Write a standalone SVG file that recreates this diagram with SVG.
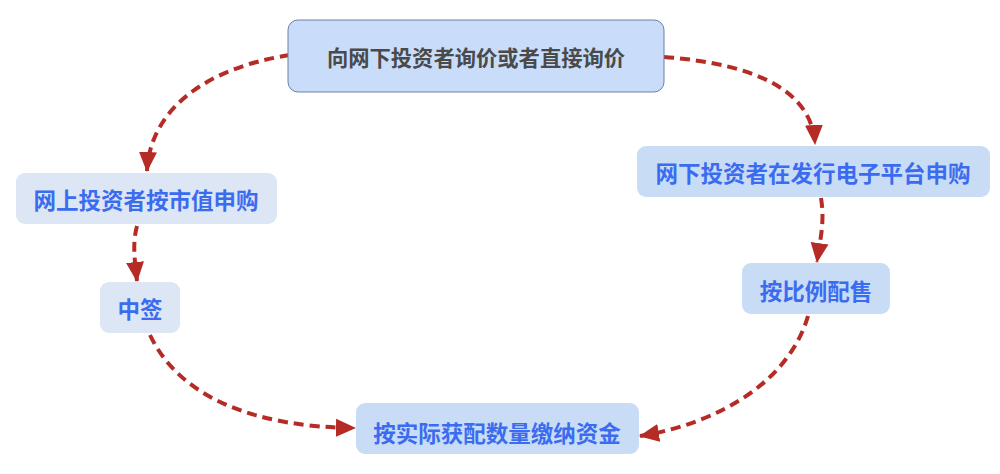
<svg xmlns="http://www.w3.org/2000/svg" width="1000" height="474" viewBox="0 0 1000 474">
<defs>
<style>
.box{fill:#c9dcf6;}
.box2{fill:#dce6f4;}
.t{font-family:"Noto Sans CJK SC","Noto Sans",sans-serif;font-weight:bold;font-size:22.5px;fill:#3b6cf0;text-anchor:middle;dominant-baseline:central;}
.tt{fill:#4a4a4a;font-size:21.3px;}
.c{fill:none;stroke:#b52b26;stroke-width:4;stroke-dasharray:10 6;}
</style>
<marker id="ah" markerUnits="userSpaceOnUse" markerWidth="20" markerHeight="20" viewBox="0 0 20 20" refX="19" refY="10" orient="auto">
<path d="M0,1 L20,10 L0,19 Z" fill="#b52b26"/>
</marker>
</defs>
<rect width="1000" height="474" fill="#ffffff"/>
<g id="connectors">
<path class="c" d="M290,55 C205,68 150,110 147,171" marker-end="url(#ah)"/>
<path class="c" d="M664,57 C758,64 812,92 815,144" marker-end="url(#ah)"/>
<path class="c" d="M137,226 C132,244 135,262 137,281" marker-end="url(#ah)"/>
<path class="c" d="M150,335 C180,398 255,427 355,428" marker-end="url(#ah)"/>
<path class="c" d="M821,198 C825,222 820,240 817,262" marker-end="url(#ah)"/>
<path class="c" d="M808,316 C790,378 725,422 640,436" marker-end="url(#ah)"/>
</g>
<g id="n1">
<rect x="288" y="20" width="376" height="72" rx="10" fill="#c9ddfa" stroke="#6c7fa8" stroke-width="1"/>
<text class="t tt" x="476" y="56">向网下投资者询价或者直接询价</text>
</g>
<g id="n2">
<rect class="box2" x="16" y="173" width="261" height="51" rx="9"/>
<text class="t" x="146" y="199">网上投资者按市值申购</text>
</g>
<g id="n3">
<rect class="box2" x="100" y="282" width="80" height="51" rx="9"/>
<text class="t" x="140" y="308">中签</text>
</g>
<g id="n4">
<rect class="box" x="637" y="146" width="353" height="51" rx="9"/>
<text class="t" x="813" y="172">网下投资者在发行电子平台申购</text>
</g>
<g id="n5">
<rect class="box" x="742" y="263" width="148" height="51" rx="9"/>
<text class="t" x="816" y="290">按比例配售</text>
</g>
<g id="n6">
<rect class="box" x="356" y="403" width="283" height="51" rx="9"/>
<text class="t" x="497" y="432">按实际获配数量缴纳资金</text>
</g>
</svg>
